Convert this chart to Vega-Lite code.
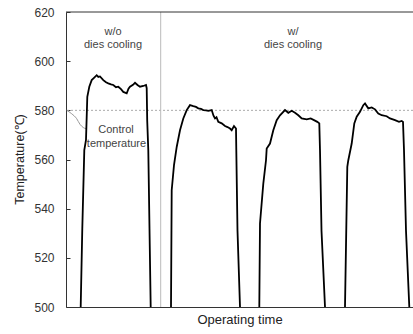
{
  "$schema": "https://vega.github.io/schema/vega-lite/v6.json",
  "autosize": "none",
  "width": 347,
  "height": 295,
  "padding": {"left": 66, "top": 12, "right": 0, "bottom": 27},
  "background": "white",
  "config": {
    "view": {"stroke": null},
    "font": "Liberation Sans"
  },
  "datasets": {
    "curve": [
      {"cycle": 1, "t": 14.7, "temp": 500},
      {"cycle": 1, "t": 16.3, "temp": 532},
      {"cycle": 1, "t": 18.3, "temp": 563.8},
      {"cycle": 1, "t": 20, "temp": 568},
      {"cycle": 1, "t": 21.3, "temp": 585.5},
      {"cycle": 1, "t": 23.3, "temp": 589.6},
      {"cycle": 1, "t": 25.7, "temp": 592.3},
      {"cycle": 1, "t": 28, "temp": 593.2},
      {"cycle": 1, "t": 30.7, "temp": 594.3},
      {"cycle": 1, "t": 32.3, "temp": 593.6},
      {"cycle": 1, "t": 34, "temp": 593.8},
      {"cycle": 1, "t": 37.3, "temp": 592.3},
      {"cycle": 1, "t": 40, "temp": 591.4},
      {"cycle": 1, "t": 42.3, "temp": 591.0},
      {"cycle": 1, "t": 45, "temp": 590.6},
      {"cycle": 1, "t": 47.3, "temp": 590.3},
      {"cycle": 1, "t": 50, "temp": 589.4},
      {"cycle": 1, "t": 52.3, "temp": 589.6},
      {"cycle": 1, "t": 55, "temp": 588.6},
      {"cycle": 1, "t": 57.3, "temp": 587.5},
      {"cycle": 1, "t": 60.7, "temp": 586.9},
      {"cycle": 1, "t": 62.5, "temp": 588.8},
      {"cycle": 1, "t": 64, "temp": 589.6},
      {"cycle": 1, "t": 67, "temp": 590.4},
      {"cycle": 1, "t": 69, "temp": 591.2},
      {"cycle": 1, "t": 71.5, "temp": 590.3},
      {"cycle": 1, "t": 74, "temp": 589.6},
      {"cycle": 1, "t": 77.3, "temp": 589.9},
      {"cycle": 1, "t": 80, "temp": 590.3},
      {"cycle": 1, "t": 80.7, "temp": 589.0},
      {"cycle": 1, "t": 81.2, "temp": 576},
      {"cycle": 1, "t": 82.3, "temp": 563.8},
      {"cycle": 1, "t": 84.7, "temp": 500},
      {"cycle": 2, "t": 105, "temp": 500},
      {"cycle": 2, "t": 105.7, "temp": 547.5},
      {"cycle": 2, "t": 108, "temp": 557.7},
      {"cycle": 2, "t": 110.7, "temp": 565.1},
      {"cycle": 2, "t": 114, "temp": 571.9},
      {"cycle": 2, "t": 117.3, "temp": 576.7},
      {"cycle": 2, "t": 120.7, "temp": 580.1},
      {"cycle": 2, "t": 124, "temp": 582.1},
      {"cycle": 2, "t": 127.3, "temp": 581.7},
      {"cycle": 2, "t": 130, "temp": 581.4},
      {"cycle": 2, "t": 132.3, "temp": 580.8},
      {"cycle": 2, "t": 135, "temp": 580.6},
      {"cycle": 2, "t": 137.3, "temp": 580.1},
      {"cycle": 2, "t": 140, "temp": 580.0},
      {"cycle": 2, "t": 142.3, "temp": 579.8},
      {"cycle": 2, "t": 145.7, "temp": 580.1},
      {"cycle": 2, "t": 147.5, "temp": 577.8},
      {"cycle": 2, "t": 149, "temp": 576.7},
      {"cycle": 2, "t": 150.5, "temp": 577.2},
      {"cycle": 2, "t": 152.3, "temp": 575.3},
      {"cycle": 2, "t": 155.7, "temp": 574.7},
      {"cycle": 2, "t": 159, "temp": 573.6},
      {"cycle": 2, "t": 161.5, "temp": 573.2},
      {"cycle": 2, "t": 164, "temp": 572.6},
      {"cycle": 2, "t": 165.7, "temp": 571.9},
      {"cycle": 2, "t": 168, "temp": 573.6},
      {"cycle": 2, "t": 170, "temp": 572.6},
      {"cycle": 2, "t": 170.3, "temp": 563.8},
      {"cycle": 2, "t": 171.5, "temp": 531},
      {"cycle": 2, "t": 174, "temp": 500},
      {"cycle": 3, "t": 193.3, "temp": 500},
      {"cycle": 3, "t": 194, "temp": 534},
      {"cycle": 3, "t": 197.3, "temp": 550.2},
      {"cycle": 3, "t": 200, "temp": 559.7},
      {"cycle": 3, "t": 200.7, "temp": 564.5},
      {"cycle": 3, "t": 204, "temp": 566.5},
      {"cycle": 3, "t": 207.3, "temp": 571.9},
      {"cycle": 3, "t": 210.7, "temp": 576.0},
      {"cycle": 3, "t": 214, "temp": 578.0},
      {"cycle": 3, "t": 219, "temp": 580.1},
      {"cycle": 3, "t": 222.3, "temp": 579.0},
      {"cycle": 3, "t": 225.7, "temp": 579.8},
      {"cycle": 3, "t": 229, "temp": 579.0},
      {"cycle": 3, "t": 232.3, "temp": 578.0},
      {"cycle": 3, "t": 235.7, "temp": 576.7},
      {"cycle": 3, "t": 240.7, "temp": 576.3},
      {"cycle": 3, "t": 244.7, "temp": 576.7},
      {"cycle": 3, "t": 248, "temp": 576.0},
      {"cycle": 3, "t": 251.3, "temp": 575.3},
      {"cycle": 3, "t": 253.3, "temp": 574.7},
      {"cycle": 3, "t": 254, "temp": 563.8},
      {"cycle": 3, "t": 255.5, "temp": 531},
      {"cycle": 3, "t": 259, "temp": 500},
      {"cycle": 4, "t": 279, "temp": 500},
      {"cycle": 4, "t": 281.3, "temp": 557},
      {"cycle": 4, "t": 282.3, "temp": 559.7},
      {"cycle": 4, "t": 285.7, "temp": 566.5},
      {"cycle": 4, "t": 288.3, "temp": 574.7},
      {"cycle": 4, "t": 290.7, "temp": 577.4},
      {"cycle": 4, "t": 294, "temp": 579.4},
      {"cycle": 4, "t": 297.3, "temp": 582.1},
      {"cycle": 4, "t": 299, "temp": 582.8},
      {"cycle": 4, "t": 302.3, "temp": 580.8},
      {"cycle": 4, "t": 305.7, "temp": 581.2},
      {"cycle": 4, "t": 309, "temp": 580.4},
      {"cycle": 4, "t": 312.3, "temp": 578.7},
      {"cycle": 4, "t": 315.7, "temp": 578.0},
      {"cycle": 4, "t": 320.7, "temp": 577.6},
      {"cycle": 4, "t": 324, "temp": 576.7},
      {"cycle": 4, "t": 329, "temp": 576.0},
      {"cycle": 4, "t": 333, "temp": 575.3},
      {"cycle": 4, "t": 335.7, "temp": 575.7},
      {"cycle": 4, "t": 337, "temp": 575.3},
      {"cycle": 4, "t": 338, "temp": 563.8},
      {"cycle": 4, "t": 340, "temp": 531},
      {"cycle": 4, "t": 343.3, "temp": 500}
    ],
    "callout": [
      {"t": 0.7, "temp": 580.0},
      {"t": 5.7, "temp": 578.6},
      {"t": 10.7, "temp": 576.6},
      {"t": 14, "temp": 574.3},
      {"t": 17.3, "temp": 573.0},
      {"t": 20, "temp": 572.5}
    ],
    "notes": [
      {"t": 47, "temp": 611.9, "label": "w/o"},
      {"t": 47, "temp": 606.6, "label": "dies cooling"},
      {"t": 227, "temp": 611.9, "label": "w/"},
      {"t": 227, "temp": 606.6, "label": "dies cooling"},
      {"t": 50, "temp": 571.9, "label": "Control"},
      {"t": 50.5, "temp": 566.2, "label": "temperature"}
    ]
  },
  "layer": [
    {
      "data": {"values": [{"temp": 580}]},
      "mark": {"type": "rule", "color": "#aaaaaa", "strokeWidth": 1, "strokeDash": [2, 2]},
      "encoding": {"y": {"field": "temp", "type": "quantitative"}}
    },
    {
      "data": {"values": [{"t": 94.7}]},
      "mark": {"type": "rule", "color": "#bbbbbb", "strokeWidth": 1},
      "encoding": {"x": {"field": "t", "type": "quantitative"}}
    },
    {
      "data": {"values": [{"temp": 620}]},
      "mark": {"type": "rule", "color": "#333333", "strokeWidth": 1},
      "encoding": {"y": {"field": "temp", "type": "quantitative"}}
    },
    {
      "data": {"name": "callout"},
      "mark": {"type": "line", "color": "#999999", "strokeWidth": 1, "interpolate": "monotone"},
      "encoding": {
        "x": {"field": "t", "type": "quantitative"},
        "y": {"field": "temp", "type": "quantitative"}
      }
    },
    {
      "data": {"name": "curve"},
      "mark": {"type": "line", "color": "#000000", "strokeWidth": 1.8, "clip": true},
      "encoding": {
        "x": {
          "field": "t",
          "type": "quantitative",
          "scale": {"domain": [0, 347], "nice": false, "zero": false},
          "axis": {
            "title": "Operating time",
            "titleFont": "Liberation Sans",
            "titleFontSize": 13,
            "titleFontWeight": "normal",
            "titleColor": "#222222",
            "titlePadding": 6,
            "labels": false,
            "ticks": false,
            "grid": false,
            "domainColor": "#333333",
            "domainWidth": 1
          }
        },
        "y": {
          "field": "temp",
          "type": "quantitative",
          "scale": {"domain": [500, 620], "nice": false, "zero": false},
          "axis": {
            "title": "Temperature(℃)",
            "titleFont": "Liberation Sans",
            "titleFontSize": 12.5,
            "titleFontWeight": "normal",
            "titleColor": "#222222",
            "titleX": -47,
            "titleY": 147,
            "titleAngle": -90,
            "titleAlign": "center",
            "titleBaseline": "middle",
            "values": [500, 510, 520, 530, 540, 550, 560, 570, 580, 590, 600, 610, 620],
            "labelExpr": "datum.value % 20 == 0 ? datum.label : ''",
            "labelFont": "Liberation Sans",
            "labelFontSize": 12,
            "labelColor": "#333333",
            "labelPadding": 16,
            "tickSize": -4,
            "tickWidth": 1,
            "tickColor": "#333333",
            "grid": false,
            "domainColor": "#333333",
            "domainWidth": 1
          }
        },
        "detail": {"field": "cycle", "type": "nominal"}
      }
    },
    {
      "data": {"name": "notes"},
      "mark": {"type": "text", "font": "Liberation Sans", "fontSize": 11, "color": "#444444", "align": "center", "baseline": "middle"},
      "encoding": {
        "x": {"field": "t", "type": "quantitative"},
        "y": {"field": "temp", "type": "quantitative"},
        "text": {"field": "label"}
      }
    }
  ]
}
